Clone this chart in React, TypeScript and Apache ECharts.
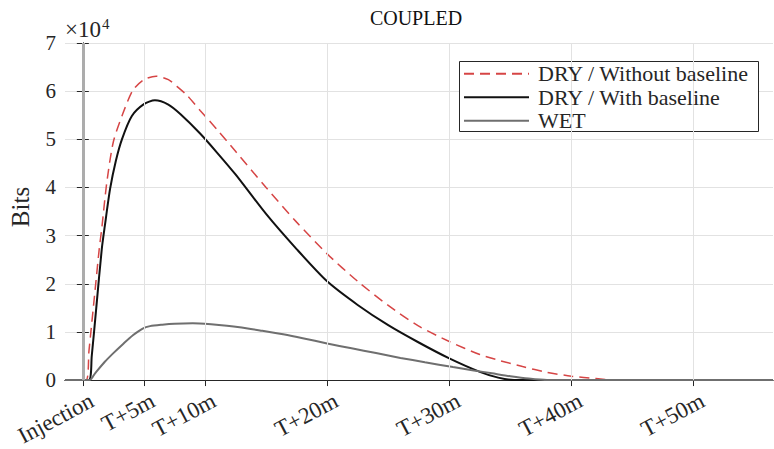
import React, { useEffect, useRef } from 'react';
import * as echarts from 'echarts';

const FONT = "'Liberation Serif', 'Times New Roman', 'DejaVu Serif', serif";
const X_MIN = -1.46;
const X_MAX = 56.5;
const Y_MIN = 0;
const Y_MAX = 7;

const tickValues = [0, 5, 10, 20, 30, 40, 50];
const tickLabels = ['Injection', 'T+5m', 'T+10m', 'T+20m', 'T+30m', 'T+40m', 'T+50m'];
const LABEL_SHIFT = 0.75;

const seriesNames = ['DRY / Without baseline', 'DRY / With baseline', 'WET'];

// values in units of 10^4 bits, time in minutes after injection
const dryNoBaseT = [-1.46, 0.26, 0.5, 1.0, 1.35, 1.55, 1.96, 2.5, 3.3, 4.1, 5.0, 6.0, 7.0, 7.7, 8.5, 9.6, 11, 12.5, 15, 17.5, 20, 22.5, 25, 27.5, 30, 32.5, 34.2, 36, 38, 40, 42, 43.5, 56.5];
const dryNoBaseV = [0, 0, 0.6, 1.86, 2.74, 3.15, 4.1, 4.95, 5.55, 6.02, 6.24, 6.31, 6.24, 6.1, 5.92, 5.6, 5.2, 4.75, 4.0, 3.28, 2.62, 2.05, 1.55, 1.12, 0.8, 0.53, 0.4, 0.28, 0.16, 0.08, 0.03, 0, 0];

const dryBaseT = [-1.46, 0.48, 0.73, 1.1, 1.55, 1.8, 2.23, 2.7, 3.2, 4.0, 5.0, 5.9, 7.0, 8.0, 9.6, 11, 12.5, 15, 17.5, 20, 22.5, 25, 27.5, 30, 32.5, 34, 35.3, 56.5];
const dryBaseV = [0, 0, 0.5, 1.5, 2.72, 3.2, 3.97, 4.55, 5.0, 5.48, 5.73, 5.81, 5.72, 5.52, 5.12, 4.72, 4.27, 3.45, 2.72, 2.05, 1.56, 1.14, 0.78, 0.45, 0.17, 0.05, 0, 0];

const wetT = [-1.46, 0.55, 1.0, 1.8, 2.5, 3.3, 4.1, 4.9, 5.5, 6.5, 7.5, 9.0, 10.5, 11.8, 13, 14.5, 16.4, 18, 20, 22, 24, 26, 28, 30.3, 32, 33.5, 35, 36.5, 38, 56.5];
const wetV = [0, 0, 0.14, 0.38, 0.56, 0.75, 0.93, 1.07, 1.12, 1.15, 1.17, 1.18, 1.16, 1.13, 1.09, 1.03, 0.95, 0.87, 0.76, 0.66, 0.56, 0.46, 0.37, 0.27, 0.2, 0.14, 0.08, 0.03, 0, 0];

const injectionTime = 0;

const pair = (t: number[], v: number[]) => t.map((x, i) => [x, v[i]]);

export default function App() {
  const ref = useRef<HTMLDivElement>(null);
  useEffect(() => {
    if (!ref.current) return;
    const chart = echarts.init(ref.current, null, { renderer: 'svg' });
    const axisColor = '#262626';
    const gridColor = '#e2e2e2';
    const labelPositions = tickValues.map((v) => v + LABEL_SHIFT);
    const option: any = {
      animation: false,
      backgroundColor: '#ffffff',
      textStyle: { fontFamily: FONT },
      grid: { left: 65, right: 1, top: 43, bottom: 66, containLabel: false },
      xAxis: [
        {
          type: 'value',
          min: X_MIN,
          max: X_MAX,
          position: 'bottom',
          axisLine: { show: true, lineStyle: { color: axisColor, width: 1 } },
          axisTick: { show: true, inside: true, length: 6, customValues: tickValues, lineStyle: { color: axisColor } },
          axisLabel: {
            show: true,
            customValues: labelPositions,
            rotate: 28,
            margin: 19,
            fontFamily: FONT,
            fontSize: 23,
            color: axisColor,
            formatter: (val: number) => {
              const i = labelPositions.findIndex((p) => Math.abs(p - val) < 1e-6);
              return i >= 0 ? tickLabels[i] : '';
            },
          },
          splitLine: { show: false },
        },
        {
          type: 'value',
          min: X_MIN,
          max: X_MAX,
          position: 'top',
          axisLine: { show: true, lineStyle: { color: axisColor, width: 1 } },
          axisTick: { show: true, inside: true, length: 6, customValues: tickValues, lineStyle: { color: axisColor } },
          axisLabel: { show: false },
          splitLine: { show: false },
        },
      ],
      yAxis: [
        {
          type: 'value',
          min: Y_MIN,
          max: Y_MAX,
          interval: 1,
          position: 'left',
          axisLine: { show: true, lineStyle: { color: axisColor, width: 1 } },
          axisTick: { show: true, inside: true, length: 6, lineStyle: { color: axisColor } },
          axisLabel: { fontFamily: FONT, fontSize: 21, color: axisColor, margin: 9 },
          splitLine: { show: true, lineStyle: { color: gridColor, width: 1 } },
        },
        {
          type: 'value',
          min: Y_MIN,
          max: Y_MAX,
          interval: 1,
          position: 'right',
          axisLine: { show: true, lineStyle: { color: axisColor, width: 1 } },
          axisTick: { show: true, inside: true, length: 6, lineStyle: { color: axisColor } },
          axisLabel: { show: false },
          splitLine: { show: false },
        },
      ],
      legend: {
        data: seriesNames,
        orient: 'vertical',
        left: 463,
        top: 62,
        padding: 0,
        itemGap: 0,
        itemWidth: 65,
        itemHeight: 14,
        z: 10,
        itemStyle: { opacity: 0 },
        textStyle: { fontFamily: FONT, fontSize: 22, color: axisColor, lineHeight: 23.5, padding: [0, 0, 0, 4] },
      },
      graphic: [
        {
          type: 'rect',
          z: 5,
          shape: { x: 459.5, y: 61.5, width: 299, height: 70 },
          style: { fill: '#ffffff', stroke: axisColor, lineWidth: 1 },
        },
        {
          type: 'text',
          x: 416,
          y: 18,
          style: { text: 'COUPLED', fontFamily: FONT, fontSize: 20, fill: '#111', align: 'center', verticalAlign: 'middle' },
        },
        {
          type: 'text',
          x: 65,
          y: 29,
          style: { text: '×10', fontFamily: FONT, fontSize: 23, fill: axisColor, align: 'left', verticalAlign: 'middle' },
        },
        {
          type: 'text',
          x: 102,
          y: 24,
          style: { text: '4', fontFamily: FONT, fontSize: 15, fill: axisColor, align: 'left', verticalAlign: 'middle' },
        },
        {
          type: 'text',
          x: 20,
          y: 207,
          rotation: Math.PI / 2,
          style: { text: 'Bits', fontFamily: FONT, fontSize: 25, fill: axisColor, align: 'center', verticalAlign: 'middle' },
        },
      ],
      series: [
        {
          name: 'grid-and-injection',
          type: 'line',
          data: [[X_MIN, 0]],
          symbol: 'none',
          lineStyle: { opacity: 0 },
          z: 1,
          silent: true,
          markLine: {
            silent: true,
            symbol: ['none', 'none'],
            label: { show: false },
            data: [
              ...tickValues.slice(1).map((v) => ({ xAxis: v, lineStyle: { color: gridColor, width: 1, type: 'solid' } })),
              { xAxis: injectionTime, lineStyle: { color: '#acacac', width: 3, type: 'solid' } },
            ],
          },
        },
        {
          name: seriesNames[0],
          type: 'line',
          data: pair(dryNoBaseT, dryNoBaseV),
          symbol: 'none',
          smooth: 0.25,
          z: 3,
          lineStyle: { color: '#d64545', width: 1.5, type: [10, 6] },
          itemStyle: { color: '#d64545' },
        },
        {
          name: seriesNames[1],
          type: 'line',
          data: pair(dryBaseT, dryBaseV),
          symbol: 'none',
          smooth: 0.25,
          z: 3,
          lineStyle: { color: '#111111', width: 2 },
          itemStyle: { color: '#111111' },
        },
        {
          name: seriesNames[2],
          type: 'line',
          data: pair(wetT, wetV),
          symbol: 'none',
          smooth: 0.25,
          z: 3,
          lineStyle: { color: '#6f6f6f', width: 2 },
          itemStyle: { color: '#6f6f6f' },
        },
      ],
    };
    chart.setOption(option);
    return () => chart.dispose();
  }, []);
  return <div ref={ref} style={{ position: 'fixed', left: 0, top: 0, width: 774, height: 449 }} />;
}
